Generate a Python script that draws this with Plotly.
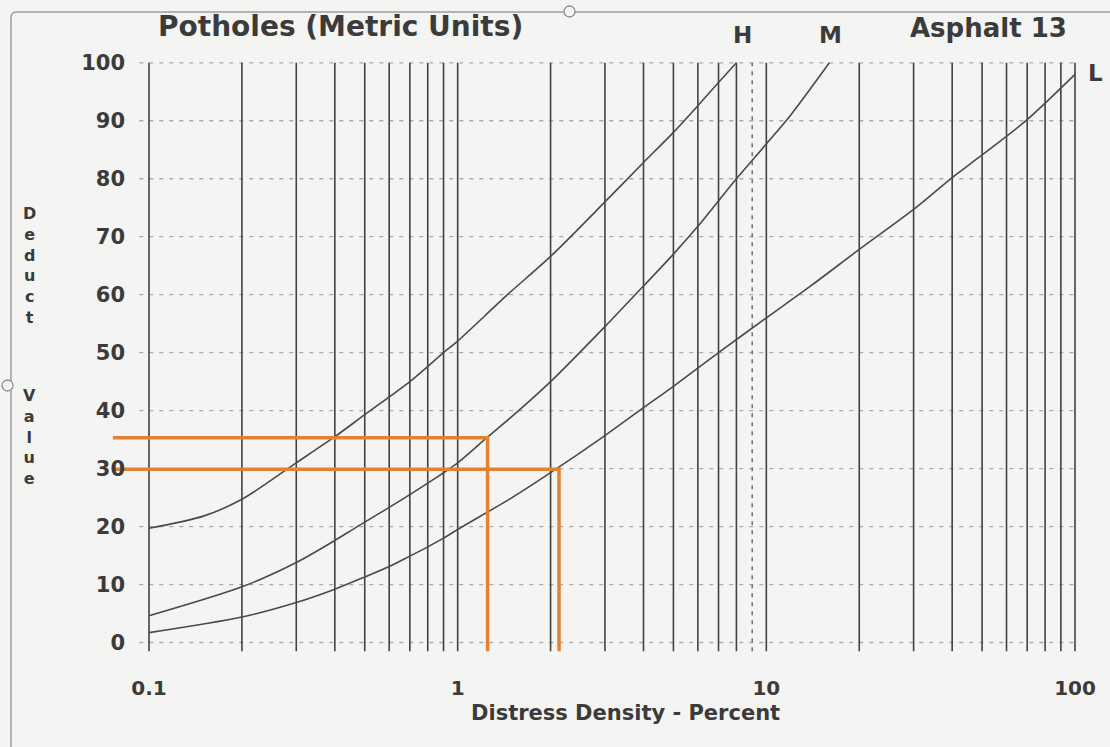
import math
import plotly.graph_objects as go

# ---------------- data ----------------
H_x = [0.1, 0.15, 0.2, 0.3, 0.4, 0.5, 0.7, 0.9, 1.0, 1.45, 2, 3, 4, 5, 6, 7, 8]
H_y = [19.7, 21.8, 24.7, 31, 35.5, 39.3, 45, 50, 52, 60, 66.6, 76, 82.8, 88, 92.6, 96.6, 100]

M_x = [0.1, 0.2, 0.3, 0.4, 0.47, 0.6, 0.8, 1.0, 1.24, 1.5, 2, 3, 4, 5, 6, 8, 10, 12, 16]
M_y = [4.6, 9.6, 13.8, 17.6, 19.9, 23.3, 27.5, 31, 35.3, 39, 45, 54.5, 61.5, 67, 71.8, 80, 86, 91, 100]

L_x = [0.1, 0.2, 0.3, 0.4, 0.5, 0.6, 0.7, 0.8, 0.9, 1.0, 1.5, 2, 3, 4, 5, 7, 10, 14, 20, 30, 40, 50, 70, 100]
L_y = [1.7, 4.4, 6.9, 9.2, 11.3, 13.1, 14.9, 16.5, 18, 19.5, 25, 29.3, 35.7, 40.5, 44.2, 50, 56, 61.6, 67.8, 74.7, 80.2, 84.1, 90.2, 98]

# orange reading lines (density, deduct value)
orange_x = [1.25, 2.13]
orange_y = [35.3, 29.9]

x_tick_vals = [0.1, 1, 10, 100]
x_tick_text = ["0.1", "1", "10", "100"]
y_tick_vals = [0, 10, 20, 30, 40, 50, 60, 70, 80, 90, 100]

grid_x_solid = [0.1, 0.2, 0.3, 0.4, 0.5, 0.6, 0.7, 0.8, 0.9,
                1, 2, 3, 4, 5, 6, 7, 8, 10, 20, 30, 40, 50, 60, 70, 80, 90, 100]
grid_x_dashed = [9]
grid_y = [0, 10, 20, 30, 40, 50, 60, 70, 80, 90, 100]

# ---------------- layout geometry ----------------
W, Hh = 1110, 747
ML, MR, MT, MB = 105, 10, 57, 90
PW, PH = W - ML - MR, Hh - MT - MB
DEC = 308.67  # px per decade
x_range = [-1 - (149 - ML) / DEC, 2 + (W - MR - 1075) / DEC]
y_range = [-2.5, 101]

def px(xp):
    return (xp - ML) / PW

def py(yp):
    return (Hh - MB - yp) / PH

BG = "#f4f4f2"
INK = "#3b3b3b"
FONT = "DejaVu Sans"

fig = go.Figure()

# horizontal dotted grid
hx, hy = [], []
for g in grid_y:
    hx += [0.093, 100, None]
    hy += [g, g, None]
fig.add_trace(go.Scatter(x=hx, y=hy, mode="lines", hoverinfo="skip",
                         line=dict(color="#ababab", width=1.3, dash="4px,6px"),
                         showlegend=False))

# vertical grid
vx, vy = [], []
for g in grid_x_solid:
    vx += [g, g, None]
    vy += [-1.5, 100, None]
fig.add_trace(go.Scatter(x=vx, y=vy, mode="lines", hoverinfo="skip",
                         line=dict(color="#424242", width=1.6), showlegend=False))
dx, dy = [], []
for g in grid_x_dashed:
    dx += [g, g, None]
    dy += [-1.5, 100, None]
fig.add_trace(go.Scatter(x=dx, y=dy, mode="lines", hoverinfo="skip",
                         line=dict(color="#707070", width=1.5, dash="4px,5px"),
                         showlegend=False))

# deduct curves
for cx, cy, name in [(H_x, H_y, "H"), (M_x, M_y, "M"), (L_x, L_y, "L")]:
    fig.add_trace(go.Scatter(x=cx, y=cy, mode="lines", name=name,
                             line=dict(color="#4a4a4a", width=1.6, shape="spline", smoothing=0.8),
                             showlegend=False))

# orange reading lines
x_start = 10 ** (x_range[0] + (113 - ML) / DEC)
for ox, oy in zip(orange_x, orange_y):
    fig.add_trace(go.Scatter(x=[x_start, ox, ox], y=[oy, oy, -1.5], mode="lines",
                             line=dict(color="#e5822f", width=3.5), showlegend=False,
                             hoverinfo="skip"))

ann = []
def label(text, xp, yp, size, xanchor="center"):
    ann.append(dict(text=text, x=px(xp), y=py(yp), xref="paper", yref="paper",
                    xanchor=xanchor, yanchor="middle", showarrow=False,
                    font=dict(family=FONT, size=size, color=INK, weight="bold")))

label("Potholes (Metric Units)", 340, 27, 28)
label("H", 742, 35, 23)
label("M", 830, 35, 23)
label("Asphalt 13", 988, 28, 26)
label("L", 1095, 73, 23)
label("D<br>e<br>d<br>u<br>c<br>t", 29, 265, 16)
label("V<br>a<br>l<br>u<br>e", 29, 437, 16)
label("Distress Density - Percent", 625, 713, 21)

shapes = [
    dict(type="line", xref="paper", yref="paper", x0=px(16), x1=px(W + 5), y0=py(12), y1=py(12),
         line=dict(color="#9c9c9c", width=1.5)),
    dict(type="line", xref="paper", yref="paper", x0=px(11), x1=px(11), y0=py(18), y1=py(Hh + 5),
         line=dict(color="#9c9c9c", width=1.5)),
    dict(type="path", xref="paper", yref="paper",
         path=f"M {px(11)},{py(18)} Q {px(11)},{py(12)} {px(16)},{py(12)}",
         line=dict(color="#9c9c9c", width=1.5)),
    dict(type="circle", xref="paper", yref="paper", x0=px(564), x1=px(575), y0=py(6), y1=py(17),
         line=dict(color="#8c8c8c", width=1.3), fillcolor=BG),
    dict(type="circle", xref="paper", yref="paper", x0=px(2), x1=px(13), y0=py(380), y1=py(391),
         line=dict(color="#8c8c8c", width=1.3), fillcolor=BG),
]

fig.update_layout(
    width=W, height=Hh,
    margin=dict(l=ML, r=MR, t=MT, b=MB),
    paper_bgcolor=BG, plot_bgcolor=BG,
    annotations=ann, shapes=shapes,
    xaxis=dict(type="log", range=x_range, showgrid=False, zeroline=False, showline=False,
               tickvals=x_tick_vals, ticktext=x_tick_text, ticks="outside", ticklen=13,
               tickcolor="rgba(0,0,0,0)",
               tickfont=dict(family=FONT, size=20, color=INK, weight="bold")),
    yaxis=dict(range=y_range, showgrid=False, zeroline=False, showline=False,
               anchor="free", position=px(125),
               tickvals=y_tick_vals, ticks="",
               tickfont=dict(family=FONT, size=21, color=INK, weight="bold")),
)

fig.write_html("out.html", config={"displayModeBar": False},
               post_script="document.body.style.margin='0';document.body.style.overflow='hidden';")
